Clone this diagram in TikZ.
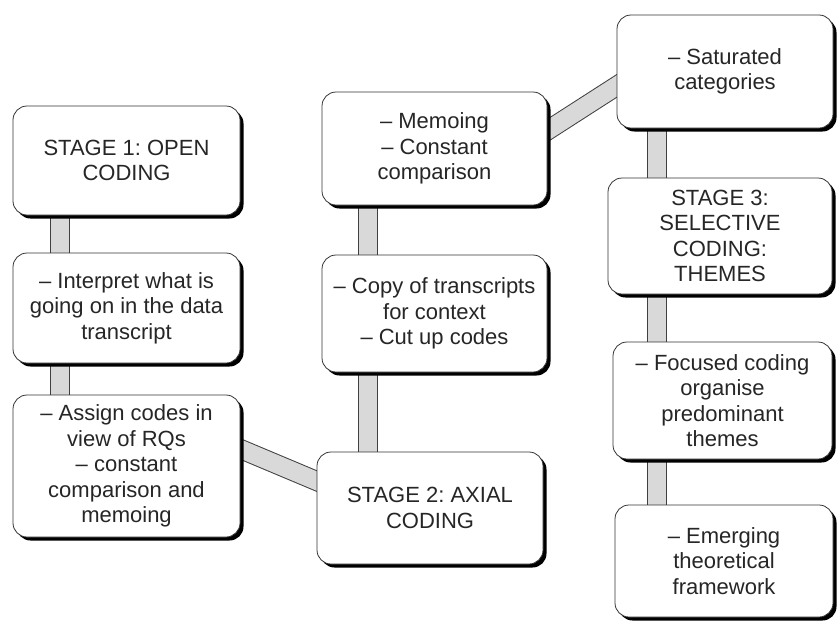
\documentclass[tikz,border=0pt]{standalone}
\usepackage{fontspec}
\setmainfont{Liberation Sans}
\usetikzlibrary{shadows,calc,backgrounds}
\frenchspacing
\tikzset{
  box/.style={draw=black!80, line width=0.8pt, fill=white, rounded corners=14pt,
    align=center, text=black!85, font=\fontsize{22}{25.5}\selectfont, inner sep=0pt,
    drop shadow={shadow xshift=3.5pt, shadow yshift=-3.5pt, fill=black, opacity=1}},
  bar/.style={draw=black!75, line width=1pt, double=black!15, double distance=18pt,
    shorten >=-10pt, shorten <=-10pt},
}
\begin{document}
\begin{tikzpicture}[x=1pt,y=-1pt]
\useasboundingbox (0,0) rectangle (837,622);
% left column
\node[box, minimum width=227pt, minimum height=109pt] (s1) at (126.5,160.5) {STAGE 1: OPEN\\CODING};
\node[box, minimum width=227pt, minimum height=110pt] (b2) at (126.5,308) {-- Interpret what is\\going on in the data\\transcript};
\node[box, minimum width=227pt, minimum height=142pt] (b3) at (126.5,466) {-- Assign codes in\\view of RQs\\-- constant\\comparison and\\memoing};
% middle column
\node[box, minimum width=225pt, minimum height=113pt] (memo) at (434.5,148.5) {-- Memoing\\-- Constant\\comparison};
\node[box, minimum width=225pt, minimum height=117pt] (copy) at (434.5,313.5) {-- Copy of transcripts\\for context\\-- Cut up codes};
\node[box, minimum width=226pt, minimum height=112pt] (s2) at (430,508) {STAGE 2: AXIAL\\CODING};
% right column
\node[box, minimum width=216pt, minimum height=113pt] (sat) at (725,71.5) {-- Saturated\\categories};
\node[box, minimum width=224pt, minimum height=116pt] (s3) at (720,236) {STAGE 3:\\SELECTIVE\\CODING:\\THEMES};
\node[box, minimum width=219pt, minimum height=117pt] (foc) at (722.5,400.5) {-- Focused coding\\organise\\predominant\\themes};
\node[box, minimum width=218pt, minimum height=112pt] (emg) at (724,561) {-- Emerging\\theoretical\\framework};
% connectors
\begin{scope}[on background layer]
\draw[bar] ($(s1.south west)+(47,0)$) -- ($(b2.north west)+(47,0)$);
\draw[bar] ($(b2.south west)+(47,0)$) -- ($(b3.north west)+(47,0)$);
\draw[bar] ($(b3.east)+(0,-17)$) -- ($(s2.west)+(0,-27)$);
\draw[bar] ($(s2.north west)+(51,0)$) -- ($(copy.south west)+(46,0)$);
\draw[bar] ($(copy.north west)+(46,0)$) -- ($(memo.south west)+(46,0)$);
\draw[bar] ($(memo.east)+(0,-18)$) -- ($(sat.west)+(0,14.5)$);
\draw[bar] ($(sat.south west)+(40,0)$) -- ($(s3.north west)+(49,0)$);
\draw[bar] ($(s3.south west)+(49,0)$) -- ($(foc.north west)+(44,0)$);
\draw[bar] ($(foc.south west)+(44,0)$) -- ($(emg.north west)+(42,0)$);
\end{scope}
\end{tikzpicture}
\end{document}
